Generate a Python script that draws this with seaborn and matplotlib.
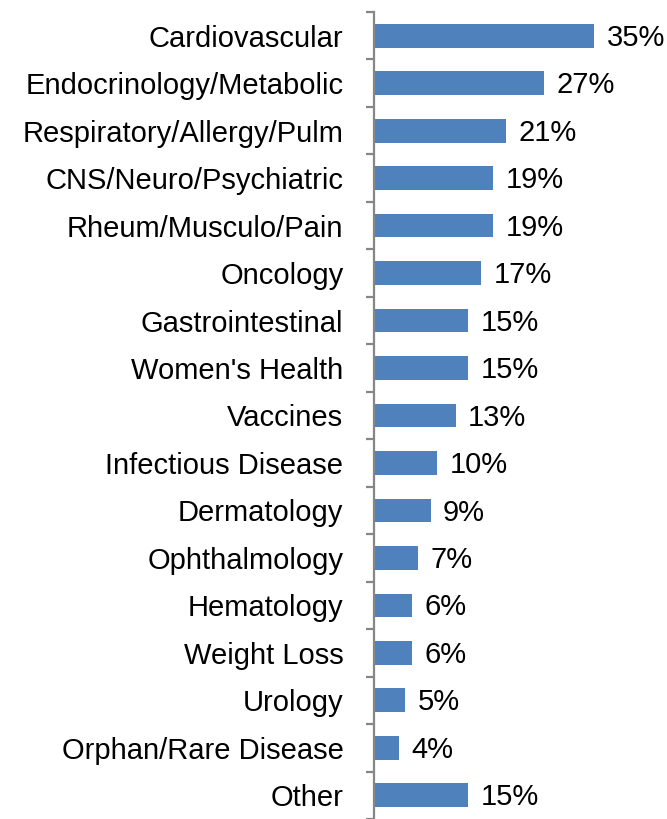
import matplotlib
matplotlib.use("Agg")
import matplotlib.pyplot as plt
import seaborn as sns
import pandas as pd
import numpy as np

categories = [
    "Cardiovascular", "Endocrinology/Metabolic", "Respiratory/Allergy/Pulm",
    "CNS/Neuro/Psychiatric", "Rheum/Musculo/Pain", "Oncology", "Gastrointestinal",
    "Women's Health", "Vaccines", "Infectious Disease", "Dermatology",
    "Ophthalmology", "Hematology", "Weight Loss", "Urology",
    "Orphan/Rare Disease", "Other",
]
values = [35, 27, 21, 19, 19, 17, 15, 15, 13, 10, 9, 7, 6, 6, 5, 4, 15]

df = pd.DataFrame({"category": categories, "value": values})

sns.set_style("white")
plt.rcParams["font.family"] = ["Liberation Sans", "DejaVu Sans"]
plt.rcParams["text.color"] = "black"
plt.rcParams["ytick.color"] = "black"

fig = plt.figure(figsize=(6.67, 8.19), dpi=100)
ax = fig.add_axes([374 / 667, 0.0, 1 - 374 / 667, 807 / 819])

sns.barplot(data=df, x="value", y="category", color="#4F81BD", width=0.5,
            saturation=1, linewidth=0, ax=ax)

ax.set_xlim(0, 46.6)
ax.set_ylim(len(categories) - 0.5, -0.5)
ax.set_xlabel("")
ax.set_ylabel("")
ax.set_xticks([])

for s in ["top", "right", "bottom"]:
    ax.spines[s].set_visible(False)
ax.spines["left"].set_color("#868686")
ax.spines["left"].set_linewidth(1.6)

ax.tick_params(axis="y", which="major", length=0, pad=22, labelsize=21,
               labelcolor="black")
ax.set_yticks(np.arange(-0.5, len(categories), 1), minor=True)
ax.tick_params(axis="y", which="minor", length=6, width=1.6, color="#868686", left=True)

labels = ax.bar_label(ax.containers[0], labels=[f"{v}%" for v in values],
                      padding=9, fontsize=21, color="black")
# nudge value labels slightly down, like the original
for t in labels:
    t.xyann = (9, -1.5)

fig.savefig("out.png", dpi=100)
